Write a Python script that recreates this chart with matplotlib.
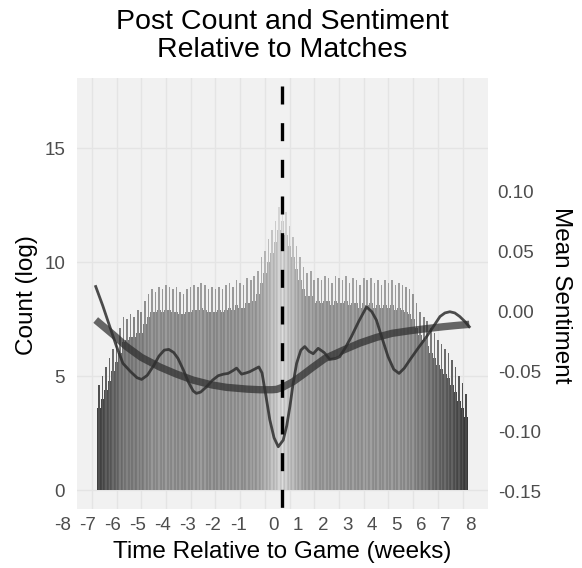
import numpy as np
import matplotlib
matplotlib.use("Agg")
import matplotlib.pyplot as plt
from matplotlib.colors import LinearSegmentedColormap, Normalize

plt.rcParams["font.family"] = ["Liberation Sans", "DejaVu Sans"]
plt.rcParams["axes.unicode_minus"] = False

# days relative to the game (one comb tooth per day)
day = list(range(-52, 53))

# daily peak and trough of the log post count
peak = [4.6, 5.0, 5.4, 5.8, 6.2, 6.5, 7.1, 7.6, 7.5, 7.7, 7.6, 7.9, 7.8, 8.3, 8.6,
        8.8, 8.7, 8.9, 8.8, 9.0, 8.9, 8.8, 8.9, 8.7, 8.6, 8.8, 8.9, 9.0, 8.9, 9.1,
        9.0, 8.8, 8.9, 8.8, 8.9, 8.8, 9.0, 9.1, 8.9, 9.2, 9.1, 9.0, 9.3, 9.2, 9.4,
        9.6, 10.2, 10.5, 11.0, 11.4, 11.8, 12.4, 12.9, 12.2, 11.6, 11.1, 10.7, 10.2, 9.8, 9.5,
        9.6, 9.2, 9.3, 9.2, 9.4, 9.3, 9.1, 9.4, 9.3, 9.2, 9.4, 9.1, 9.3, 9.2, 9.0,
        9.3, 9.2, 9.3, 9.1, 9.2, 9.0, 9.2, 9.1, 9.2, 9.0, 9.1, 9.0, 8.9, 8.8, 8.6,
        8.2, 7.8, 7.6, 7.4, 7.1, 6.9, 6.6, 6.4, 6.2, 6.0, 5.7, 5.4, 5.0, 4.7, 4.2]
trough = [3.6, 4.0, 4.4, 4.8, 5.2, 5.6, 6.0, 6.5, 6.6, 6.7, 6.7, 6.9, 6.9, 7.3, 7.6,
          7.8, 7.8, 7.9, 7.8, 7.9, 7.9, 7.8, 7.8, 7.7, 7.7, 7.8, 7.8, 7.9, 7.9, 8.0,
          7.9, 7.8, 7.8, 7.8, 7.9, 7.8, 7.9, 8.0, 7.9, 8.1, 8.0, 8.0, 8.2, 8.2, 8.3,
          8.6, 9.1, 9.5, 10.0, 10.4, 10.9, 11.4, 11.8, 11.2, 10.7, 10.2, 9.7, 9.2, 8.8, 8.5,
          8.5, 8.2, 8.3, 8.2, 8.3, 8.3, 8.1, 8.3, 8.2, 8.2, 8.3, 8.1, 8.2, 8.2, 8.0,
          8.2, 8.1, 8.2, 8.0, 8.1, 8.0, 8.1, 8.0, 8.1, 7.9, 8.0, 7.9, 7.8, 7.7, 7.5,
          7.1, 6.8, 6.6, 6.3, 6.0, 5.8, 5.5, 5.3, 5.1, 4.9, 4.6, 4.3, 3.9, 3.6, 3.2]

# mean sentiment (wiggly line)
sent_day = [-52.9, -50.9, -48.9, -47.0, -45.2, -43.0, -41.2, -39.9, -38.3, -36.5, -35.0,
            -33.5, -32.2, -30.8, -29.6, -28.0, -26.7, -25.3, -24.4, -23.2, -21.5, -19.8,
            -18.2, -16.7, -15.4, -14.0, -13.0, -11.6, -10.3, -9.3, -8.0, -6.7, -5.8,
            -4.7, -3.6, -2.4, -1.2, 0.2, 1.2, 2.1, 3.0, 4.0, 5.2, 6.3, 7.5, 8.7, 10.1,
            11.8, 13.4, 15.0, 16.2, 17.8, 19.5, 21.6, 23.8, 25.3, 26.6, 28.2, 29.9,
            31.5, 33.0, 34.5, 36.1, 38.5, 40.8, 42.8, 44.6, 46.0, 47.4, 48.8, 50.2,
            51.6, 52.9]
sent_val = [0.021, 0.005, -0.0125, -0.029, -0.043, -0.050, -0.055, -0.0564, -0.053,
            -0.045, -0.037, -0.032, -0.0314, -0.034, -0.0389, -0.049, -0.0583, -0.066,
            -0.068, -0.067, -0.0625, -0.057, -0.0533, -0.052, -0.0514, -0.049, -0.047,
            -0.052, -0.051, -0.050, -0.048, -0.046, -0.051, -0.070, -0.090, -0.105,
            -0.1125, -0.107, -0.095, -0.079, -0.060, -0.043, -0.032, -0.029, -0.033,
            -0.035, -0.0305, -0.034, -0.0397, -0.039, -0.0375, -0.030, -0.0208, -0.008,
            0.004, 0.0, -0.007, -0.022, -0.0375, -0.048, -0.0514, -0.047, -0.040,
            -0.030, -0.0208, -0.012, -0.004, -0.001, 0.0, -0.001, -0.004, -0.008, -0.0125]

# smoothed sentiment
smooth_day = [-52.9, -48, -44.2, -40, -34.8, -30, -25.3, -20, -15.9, -10, -6.4, -3, -1.7,
              0, 3.0, 6, 8.7, 12, 17.2, 22, 26.6, 31, 36.1, 41, 45.5, 49, 52.9]
smooth_val = [-0.0069, -0.019, -0.029, -0.038, -0.046, -0.052, -0.057, -0.061, -0.063,
              -0.0645, -0.065, -0.065, -0.0647, -0.063, -0.0583, -0.052, -0.046, -0.039,
              -0.032, -0.026, -0.0214, -0.018, -0.0158, -0.014, -0.0125, -0.0115, -0.0105]

week_labels = ["-8", "-7", "-6", "-5", "-4", "-3", "-2", "-1", "0",
               "1", "2", "3", "4", "5", "6", "7", "8"]
week_label_pos = [-62.2, -55.1, -48.0, -41.0, -33.9, -26.8, -19.7, -12.6, -2.5,
                  4.3, 11.4, 18.3, 25.3, 32.4, 39.4, 46.2, 53.3]
grid_x = [-54, -47, -40, -33, -26, -19, -12, -5, 2, 9, 16, 23, 30, 37, 44, 51]

fig = plt.figure(figsize=(5.82, 5.68), dpi=100)
ax = fig.add_axes([77 / 582, 59 / 568, 411 / 582, 431 / 568])
ax.set_facecolor("#f1f1f1")

cmap = LinearSegmentedColormap.from_list("greys", ["#363636", "#dedede"])
norm = Normalize(3, 13)
ax.bar(day, trough, width=1.0, color=cmap(norm(np.array(trough))), linewidth=0,
       antialiased=False, zorder=2)
ax.bar(day, peak, width=0.45, color=cmap(norm(np.array(peak))), linewidth=0,
       zorder=2)

ax.set_xlim(-58.2, 58.2)
ax.set_ylim(-0.83, 18.07)
ax.set_xticks(grid_x, labels=[])
ax.set_yticks([0, 5, 10, 15])
ax.grid(True, color="#e4e4e4", linewidth=1.0, zorder=0)
ax.set_axisbelow(True)
ax.tick_params(axis="both", length=0, labelsize=13.5, labelcolor="#4d4d4d")
ax.tick_params(axis="y", pad=8.5)
for s in ax.spines.values():
    s.set_visible(False)

for lab, pos in zip(week_labels, week_label_pos):
    ax.text(pos, -0.038, lab, transform=ax.get_xaxis_transform(), ha="center",
            va="center", fontsize=13.5, color="#4d4d4d", clip_on=False)

ax2 = ax.twinx()
ax2.set_ylim(-0.1644, 0.1948)
ticks2 = [-0.15, -0.10, -0.05, 0.0, 0.05, 0.10]
ax2.set_yticks(ticks2, labels=["%.2f" % t for t in ticks2])
ax2.tick_params(axis="y", length=0, labelsize=13.5, labelcolor="#4d4d4d", pad=7)
for s in ax2.spines.values():
    s.set_visible(False)

ax2.plot(smooth_day, smooth_val, color="#2a2a2a", alpha=0.7, linewidth=5.3,
         solid_capstyle="butt", zorder=3)
ax2.plot(sent_day, sent_val, color="#2e2e2e", alpha=0.85, linewidth=2.0, zorder=4)
ax2.plot([0, 0], [0.1948, -0.1644], color="black", linewidth=2.4,
         linestyle=(8.6, (5.4, 5.6)), zorder=5)

fig.text(282.5 / 582, 1 - 36 / 568, "Post Count and Sentiment\nRelative to Matches",
         ha="center", va="center", fontsize=20.5, linespacing=1.08)
fig.text(282.5 / 582, 1 - 552 / 568, "Time Relative to Game (weeks)",
         ha="center", va="center", fontsize=17.5)
fig.text(27 / 582, 1 - 295 / 568, "Count (log)", rotation=90,
         ha="center", va="center", fontsize=17.5)
fig.text(561 / 582, 1 - 295 / 568, "Mean Sentiment", rotation=270,
         ha="center", va="center", fontsize=17.5)

fig.savefig("out.png", dpi=100)
